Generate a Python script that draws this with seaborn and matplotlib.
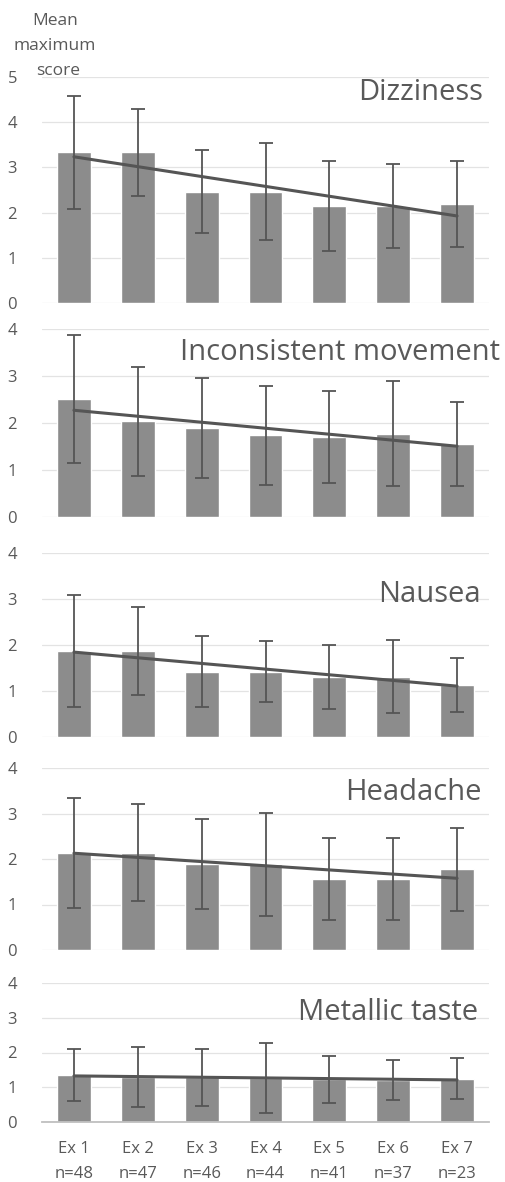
import numpy as np
import pandas as pd
import matplotlib
matplotlib.use("Agg")
import matplotlib.pyplot as plt
import seaborn as sns

sessions = ["Ex 1\nn=48", "Ex 2\nn=47", "Ex 3\nn=46", "Ex 4\nn=44", "Ex 5\nn=41", "Ex 6\nn=37", "Ex 7\nn=23"]

symptoms = ["Dizziness", "Inconsistent movement", "Nausea", "Headache", "Metallic taste"]

dizziness_mean = [3.33, 3.33, 2.46, 2.46, 2.15, 2.14, 2.19]
dizziness_sd = [1.24, 0.97, 0.92, 1.07, 1.00, 0.93, 0.95]

inconsistent_mean = [2.51, 2.04, 1.89, 1.74, 1.71, 1.77, 1.56]
inconsistent_sd = [1.37, 1.16, 1.07, 1.05, 0.98, 1.12, 0.89]

nausea_mean = [1.87, 1.87, 1.42, 1.42, 1.31, 1.31, 1.13]
nausea_sd = [1.22, 0.96, 0.77, 0.66, 0.70, 0.79, 0.58]

headache_mean = [2.14, 2.14, 1.89, 1.88, 1.57, 1.57, 1.77]
headache_sd = [1.21, 1.07, 0.98, 1.14, 0.90, 0.90, 0.91]

metallic_mean = [1.35, 1.29, 1.29, 1.27, 1.23, 1.20, 1.25]
metallic_sd = [0.76, 0.87, 0.82, 1.00, 0.67, 0.58, 0.58]

ylabel_lines = ["Mean", "maximum", "score"]

means = [dizziness_mean, inconsistent_mean, nausea_mean, headache_mean, metallic_mean]
sds = [dizziness_sd, inconsistent_sd, nausea_sd, headache_sd, metallic_sd]
ymax = [5, 4, 4, 4, 4]

sns.set_style("white")
plt.rcParams['font.family'] = ['Open Sans', 'DejaVu Sans']

W, H = 505, 1182
fig = plt.figure(figsize=(W / 100, H / 100), dpi=100)

# (top_px, bottom_px) of each panel
rows = [(77, 303), (329, 517), (553, 737), (768, 950), (983, 1122)]
left_px, right_px = 42, 489

bar_color = "#8c8c8c"
err_color = "#555555"
txt_color = "#595959"
title_pos = [(483, 93), (500, 353), (481, 595), (482, 792), (478, 1013)]

for i, (name, m, s, ym, (t, b)) in enumerate(zip(symptoms, means, sds, ymax, rows)):
    ax = fig.add_axes([left_px / W, (H - b) / H, (right_px - left_px) / W, (b - t) / H])
    df = pd.DataFrame({"session": sessions, "mean": m, "sd": s})
    sns.barplot(data=df, x="session", y="mean", color=bar_color, width=0.53,
                saturation=1, ax=ax, errorbar=None, zorder=2)
    xs = np.arange(len(sessions))
    ax.errorbar(xs, m, yerr=s, fmt="none", ecolor=err_color, elinewidth=1.3,
                capsize=5, capthick=1.3, zorder=3)
    sns.regplot(x=xs, y=np.array(m), scatter=False, ci=None, truncate=True,
                line_kws=dict(color=err_color, lw=2.2, zorder=4), ax=ax)
    ax.set_xlim(-0.5, 6.5)
    ax.set_ylim(0, ym)
    ax.set_yticks(range(0, ym + 1))
    ax.yaxis.grid(True, color="#e3e3e3", lw=0.9, zorder=0)
    ax.set_axisbelow(True)
    for sp in ax.spines.values():
        sp.set_visible(False)
    ax.set_xlabel("")
    ax.set_ylabel("")
    ax.tick_params(axis="y", length=0, pad=18, labelsize=12, labelcolor=txt_color)
    if i == len(symptoms) - 1:
        ax.spines["bottom"].set_visible(True)
        ax.spines["bottom"].set_color("#bfbfbf")
        ax.spines["bottom"].set_linewidth(1.3)
        ax.tick_params(axis="x", length=0, pad=14, labelsize=12, labelcolor=txt_color)
        for lab in ax.get_xticklabels():
            lab.set_linespacing(1.75)
    else:
        ax.set_xticklabels([])
        ax.tick_params(axis="x", length=0)
    tx, ty = title_pos[i]
    fig.text(tx / W, 1 - ty / H, name, ha="right", va="center", fontsize=21,
             color=txt_color)

for line, ly, lx in zip(ylabel_lines, [21, 46, 71], [55, 55, 58]):
    fig.text(lx / W, 1 - ly / H, line, ha="center", va="center",
             fontsize=12.5, color=txt_color)

fig.savefig("out.png", dpi=100)
